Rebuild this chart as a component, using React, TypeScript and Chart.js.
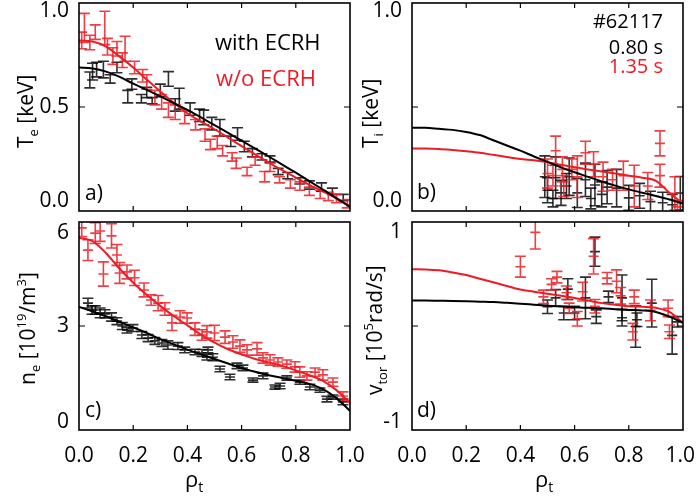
import React, { useEffect, useRef } from "react";
import { Chart, registerables } from "chart.js";
Chart.register(...registerables);

const FONT = '"Open Sans", "DejaVu Sans", sans-serif';
const BLACK = "#000000";
const RED = "rgb(237,28,36)";
const BLACK_BAR = "rgba(0,0,0,0.82)";
const RED_BAR = "rgba(237,28,36,0.85)";

type Pt = [number, number, number];

// ---------- shared radial grid for the fitted profiles ----------
const RHO_GRID = [0, 0.05, 0.1, 0.15, 0.2, 0.25, 0.3, 0.35, 0.4, 0.45, 0.5, 0.55, 0.6, 0.65, 0.7, 0.75, 0.8, 0.85, 0.9, 0.95, 1.0];
const X_TICKS = [0, 0.2, 0.4, 0.6, 0.8, 1.0];
const X_TICK_LABELS = ["0.0", "0.2", "0.4", "0.6", "0.8", "1.0"];

// ---------- a) Te ----------
const TE_FIT_ECRH = [0.69, 0.685, 0.67, 0.645, 0.612, 0.582, 0.551, 0.518, 0.486, 0.45, 0.413, 0.376, 0.338, 0.3, 0.262, 0.223, 0.184, 0.144, 0.103, 0.062, 0.02];
const TE_FIT_NOECRH = [0.82, 0.815, 0.79, 0.742, 0.69, 0.632, 0.575, 0.52, 0.47, 0.43, 0.393, 0.353, 0.312, 0.272, 0.233, 0.196, 0.16, 0.126, 0.094, 0.06, 0.022];
const TE_PTS_ECRH: Pt[] = [
  [0.04, 0.63, 0.038], [0.05, 0.67, 0.04], [0.065, 0.68, 0.035], [0.09, 0.68, 0.04], [0.115, 0.635, 0.02],
  [0.14, 0.69, 0.025], [0.18, 0.55, 0.03], [0.195, 0.61, 0.025], [0.23, 0.54, 0.02], [0.25, 0.57, 0.025],
  [0.27, 0.53, 0.015], [0.3, 0.58, 0.03], [0.33, 0.635, 0.035], [0.355, 0.51, 0.03], [0.37, 0.54, 0.05],
  [0.41, 0.49, 0.03], [0.445, 0.46, 0.03], [0.46, 0.45, 0.035], [0.49, 0.42, 0.03], [0.52, 0.4, 0.04],
  [0.56, 0.335, 0.025], [0.585, 0.37, 0.03], [0.61, 0.31, 0.025], [0.64, 0.28, 0.02], [0.675, 0.26, 0.015],
  [0.705, 0.25, 0.015], [0.735, 0.19, 0.015], [0.77, 0.17, 0.015], [0.815, 0.145, 0.015], [0.85, 0.125, 0.02],
  [0.895, 0.115, 0.02], [0.935, 0.095, 0.015], [0.975, 0.065, 0.015],
];
const TE_PTS_NOECRH: Pt[] = [
  [0.02, 0.88, 0.07], [0.01, 0.82, 0.04], [0.04, 0.81, 0.035], [0.06, 0.86, 0.035], [0.095, 0.88, 0.08],
  [0.105, 0.79, 0.04], [0.125, 0.745, 0.04], [0.14, 0.78, 0.035], [0.16, 0.725, 0.035], [0.17, 0.78, 0.06],
  [0.205, 0.69, 0.03], [0.235, 0.65, 0.03], [0.25, 0.62, 0.035], [0.28, 0.545, 0.035], [0.305, 0.525, 0.035],
  [0.33, 0.485, 0.035], [0.355, 0.475, 0.035], [0.39, 0.45, 0.03], [0.43, 0.415, 0.025], [0.465, 0.365, 0.03],
  [0.485, 0.32, 0.025], [0.51, 0.33, 0.03], [0.53, 0.29, 0.025], [0.565, 0.26, 0.02], [0.58, 0.23, 0.025],
  [0.62, 0.19, 0.02], [0.65, 0.24, 0.02], [0.685, 0.165, 0.025], [0.705, 0.21, 0.02], [0.74, 0.15, 0.015],
  [0.78, 0.13, 0.02], [0.815, 0.12, 0.02], [0.85, 0.095, 0.02], [0.89, 0.08, 0.02], [0.92, 0.07, 0.02],
  [0.95, 0.06, 0.02], [0.99, 0.035, 0.02],
];

// ---------- b) Ti ----------
const TI_FIT_ECRH = [0.4, 0.4, 0.395, 0.39, 0.38, 0.365, 0.34, 0.315, 0.29, 0.262, 0.236, 0.21, 0.186, 0.164, 0.142, 0.122, 0.104, 0.088, 0.072, 0.055, 0.035];
const TI_FIT_NOECRH = [0.3, 0.3, 0.298, 0.293, 0.287, 0.28, 0.27, 0.26, 0.25, 0.244, 0.235, 0.222, 0.21, 0.2, 0.19, 0.18, 0.17, 0.16, 0.145, 0.088, 0.035];
const TI_PTS_ECRH: Pt[] = [
  [0.49, 0.165, 0.1], [0.5, 0.1, 0.06], [0.52, 0.06, 0.04], [0.53, 0.16, 0.1], [0.55, 0.087, 0.06],
  [0.57, 0.12, 0.06], [0.58, 0.165, 0.09], [0.61, 0.087, 0.07], [0.64, 0.15, 0.08], [0.66, 0.06, 0.05],
  [0.675, 0.125, 0.1], [0.7, 0.08, 0.06], [0.72, 0.115, 0.08], [0.755, 0.11, 0.09], [0.8, 0.063, 0.06],
  [0.84, 0.073, 0.06], [0.88, 0.045, 0.05], [0.925, 0.04, 0.05], [0.96, 0.03, 0.05], [0.99, 0.086, 0.08],
];
const TI_PTS_NOECRH: Pt[] = [
  [0.5, 0.18, 0.07], [0.52, 0.17, 0.05], [0.53, 0.29, 0.07], [0.555, 0.2, 0.06], [0.56, 0.12, 0.05],
  [0.59, 0.2, 0.05], [0.61, 0.165, 0.1], [0.64, 0.28, 0.055], [0.67, 0.225, 0.06], [0.705, 0.165, 0.07],
  [0.74, 0.15, 0.05], [0.78, 0.17, 0.07], [0.82, 0.12, 0.1], [0.87, 0.12, 0.065], [0.915, 0.325, 0.06],
  [0.915, 0.17, 0.055], [0.97, 0.085, 0.08], [0.98, 0.02, 0.03],
];

// ---------- c) ne ----------
const NE_FIT_ECRH = [3.55, 3.42, 3.28, 3.12, 2.96, 2.8, 2.62, 2.47, 2.32, 2.18, 2.05, 1.92, 1.79, 1.68, 1.58, 1.5, 1.42, 1.33, 1.18, 0.92, 0.55];
const NE_FIT_NOECRH = [5.55, 5.45, 5.1, 4.65, 4.25, 3.9, 3.58, 3.28, 3.02, 2.75, 2.52, 2.33, 2.18, 2.05, 1.95, 1.85, 1.72, 1.58, 1.42, 1.15, 0.78];
const NE_PTS_ECRH: Pt[] = [
  [0.033, 3.66, 0.14], [0.048, 3.46, 0.12], [0.06, 3.46, 0.12], [0.078, 3.38, 0.14], [0.096, 3.35, 0.12],
  [0.12, 3.26, 0.12], [0.14, 3.14, 0.1], [0.16, 3.0, 0.1], [0.177, 2.88, 0.08], [0.199, 2.94, 0.1],
  [0.232, 2.74, 0.1], [0.255, 2.65, 0.1], [0.28, 2.57, 0.1], [0.306, 2.51, 0.1], [0.328, 2.45, 0.12],
  [0.365, 2.42, 0.1], [0.39, 2.31, 0.08], [0.428, 2.25, 0.08], [0.454, 2.22, 0.1], [0.476, 2.31, 0.08],
  [0.472, 2.1, 0.08], [0.494, 2.1, 0.1], [0.52, 1.76, 0.08], [0.557, 1.53, 0.08], [0.583, 1.85, 0.08],
  [0.605, 1.79, 0.08], [0.642, 1.44, 0.06], [0.679, 1.56, 0.08], [0.723, 1.24, 0.06], [0.742, 1.27, 0.08],
  [0.767, 1.5, 0.06], [0.815, 1.38, 0.06], [0.852, 1.24, 0.08], [0.889, 1.15, 0.06], [0.915, 0.89, 0.08],
  [0.937, 0.95, 0.06], [0.974, 0.81, 0.08],
];
const NE_PTS_NOECRH: Pt[] = [
  [0.01, 5.83, 0.25], [0.033, 5.19, 0.3], [0.06, 5.68, 0.3], [0.078, 5.74, 0.3], [0.09, 4.5, 0.35],
  [0.12, 5.6, 0.35], [0.14, 5.05, 0.3], [0.15, 4.53, 0.3], [0.177, 4.56, 0.2], [0.205, 4.39, 0.22],
  [0.24, 4.04, 0.2], [0.266, 3.75, 0.15], [0.292, 3.66, 0.22], [0.317, 3.49, 0.18], [0.343, 3.09, 0.22],
  [0.373, 3.26, 0.18], [0.399, 3.23, 0.15], [0.428, 2.91, 0.18], [0.454, 2.74, 0.15], [0.472, 2.83, 0.18],
  [0.5, 2.8, 0.22], [0.539, 2.68, 0.18], [0.568, 2.54, 0.18], [0.594, 2.42, 0.18], [0.62, 2.31, 0.15],
  [0.657, 2.34, 0.18], [0.679, 2.08, 0.15], [0.705, 2.02, 0.15], [0.734, 1.96, 0.12], [0.767, 1.9, 0.12],
  [0.797, 1.82, 0.15], [0.815, 1.67, 0.15], [0.841, 1.56, 0.12], [0.871, 1.67, 0.12], [0.9, 1.59, 0.15],
  [0.937, 1.38, 0.12], [0.974, 0.98, 0.12],
];

// ---------- d) vtor ----------
const VT_FIT_ECRH = [0.245, 0.245, 0.243, 0.241, 0.238, 0.234, 0.23, 0.223, 0.215, 0.205, 0.195, 0.187, 0.18, 0.175, 0.17, 0.162, 0.155, 0.15, 0.135, 0.09, 0.03];
const VT_FIT_NOECRH = [0.545, 0.543, 0.535, 0.515, 0.49, 0.455, 0.42, 0.385, 0.35, 0.33, 0.31, 0.29, 0.27, 0.245, 0.22, 0.205, 0.19, 0.185, 0.175, 0.135, 0.03];
const VT_PTS_ECRH: Pt[] = [
  [0.5, 0.185, 0.065], [0.53, 0.27, 0.08], [0.56, 0.125, 0.065], [0.575, 0.355, 0.1], [0.6, 0.125, 0.065],
  [0.64, 0.27, 0.2], [0.675, 0.715, 0.14], [0.68, 0.09, 0.065], [0.725, 0.28, 0.055], [0.775, 0.27, 0.22],
  [0.775, 0.08, 0.08], [0.825, -0.005, 0.2], [0.83, 0.06, 0.065], [0.885, 0.22, 0.23], [0.96, -0.09, 0.18],
  [0.98, 0.04, 0.05],
];
const VT_PTS_NOECRH: Pt[] = [
  [0.4, 0.57, 0.1], [0.455, 0.9, 0.16], [0.485, 0.28, 0.065], [0.515, 0.4, 0.055], [0.535, 0.47, 0.055],
  [0.57, 0.32, 0.065], [0.58, 0.17, 0.05], [0.61, 0.07, 0.07], [0.63, 0.33, 0.09], [0.67, 0.67, 0.17],
  [0.675, 0.19, 0.065], [0.72, 0.46, 0.055], [0.755, 0.43, 0.11], [0.77, 0.29, 0.08], [0.815, -0.055, 0.08],
  [0.82, 0.28, 0.065], [0.88, 0.15, 0.1], [0.945, 0.17, 0.08], [0.95, -0.055, 0.065],
];

type Part = { t: string; sub?: boolean; sup?: boolean };
type TextItem = { text: string; x: number; y: number; color: string; align: CanvasTextAlign; size: number };
type YLabel = { v: number; label: string; dy: number };

interface Panel {
  pad: { left: number; top: number; right: number; bottom: number };
  yMin: number;
  yMax: number;
  yMarks: number[];
  yLabels: YLabel[];
  title: Part[];
  titleX: number;
  titleY: number;
  tag: string;
  tagX: number;
  tagY: number;
  texts: TextItem[];
  xLabels: boolean;
  rhoX: number;
  centerTick: boolean;
  fitB: number[];
  fitR: number[];
  ptsB: Pt[];
  ptsR: Pt[];
}

const PANELS: Panel[] = [
  {
    pad: { left: 79, top: 3, right: 347, bottom: 288 },
    yMin: 0, yMax: 1, yMarks: [0.5],
    yLabels: [{ v: 1, label: "1.0", dy: 14 }, { v: 0.5, label: "0.5", dy: 6 }, { v: 0, label: "0.0", dy: -4 }],
    title: [{ t: "T" }, { t: "e", sub: true }, { t: " [keV]" }], titleX: 33, titleY: 148,
    tag: "a)", tagX: 85, tagY: 200,
    texts: [
      { text: "with ECRH", x: 215, y: 50, color: BLACK, align: "left", size: 22 },
      { text: "w/o ECRH", x: 216, y: 86, color: RED, align: "left", size: 22 },
    ],
    xLabels: false, rhoX: 0, centerTick: false,
    fitB: TE_FIT_ECRH, fitR: TE_FIT_NOECRH, ptsB: TE_PTS_ECRH, ptsR: TE_PTS_NOECRH,
  },
  {
    pad: { left: 412, top: 3, right: 14, bottom: 288 },
    yMin: 0, yMax: 1, yMarks: [0.5],
    yLabels: [{ v: 1, label: "1.0", dy: 14 }, { v: 0, label: "0.0", dy: -4 }],
    title: [{ t: "T" }, { t: "i", sub: true }, { t: " [keV]" }], titleX: 378, titleY: 148,
    tag: "b)", tagX: 417, tagY: 199,
    texts: [
      { text: "#62117", x: 663, y: 28, color: BLACK, align: "right", size: 20 },
      { text: "0.80 s", x: 663, y: 54, color: BLACK, align: "right", size: 20 },
      { text: "1.35 s", x: 663, y: 73, color: RED, align: "right", size: 20 },
    ],
    xLabels: false, rhoX: 0, centerTick: true,
    fitB: TI_FIT_ECRH, fitR: TI_FIT_NOECRH, ptsB: TI_PTS_ECRH, ptsR: TI_PTS_NOECRH,
  },
  {
    pad: { left: 79, top: 222, right: 347, bottom: 69 },
    yMin: 0, yMax: 6, yMarks: [3],
    yLabels: [{ v: 6, label: "6", dy: 17 }, { v: 3, label: "3", dy: 6 }, { v: 0, label: "0", dy: -2 }],
    title: [{ t: "n" }, { t: "e", sub: true }, { t: " [10" }, { t: "19", sup: true }, { t: "/m" }, { t: "3", sup: true }, { t: "]" }],
    titleX: 35, titleY: 385,
    tag: "c)", tagX: 85, tagY: 417,
    texts: [],
    xLabels: true, rhoX: 185, centerTick: true,
    fitB: NE_FIT_ECRH, fitR: NE_FIT_NOECRH, ptsB: NE_PTS_ECRH, ptsR: NE_PTS_NOECRH,
  },
  {
    pad: { left: 412, top: 222, right: 14, bottom: 69 },
    yMin: -1, yMax: 1, yMarks: [0],
    yLabels: [{ v: 1, label: "1", dy: 16 }, { v: -1, label: "-1", dy: -2 }],
    title: [{ t: "v" }, { t: "tor", sub: true }, { t: " [10" }, { t: "5", sup: true }, { t: "rad/s]" }],
    titleX: 382, titleY: 395,
    tag: "d)", tagX: 417, tagY: 417,
    texts: [],
    xLabels: true, rhoX: 535, centerTick: true,
    fitB: VT_FIT_ECRH, fitR: VT_FIT_NOECRH, ptsB: VT_PTS_ECRH, ptsR: VT_PTS_NOECRH,
  },
];

const FS = 21;

function drawRich(ctx: CanvasRenderingContext2D, parts: Part[], x: number, y: number, size: number, rotate: boolean) {
  ctx.save();
  ctx.translate(x, y);
  if (rotate) ctx.rotate(-Math.PI / 2);
  ctx.textAlign = "left";
  ctx.textBaseline = "alphabetic";
  ctx.fillStyle = BLACK;
  let cx = 0;
  for (const p of parts) {
    const small = p.sub || p.sup;
    ctx.font = `${small ? Math.round(size * 0.62) : size}px ${FONT}`;
    const dy = p.sub ? size * 0.22 : p.sup ? -size * 0.42 : 0;
    ctx.fillText(p.t, cx, dy);
    cx += ctx.measureText(p.t).width;
  }
  ctx.restore();
}

function makePlugin(panel: Panel) {
  return {
    id: "panelDeco",
    beforeDatasetsDraw(chart: any) {
      const ctx: CanvasRenderingContext2D = chart.ctx;
      const ca = chart.chartArea;
      const ys = chart.scales.y;
      ctx.save();
      ctx.beginPath();
      ctx.rect(ca.left, ca.top, ca.right - ca.left, ca.bottom - ca.top);
      ctx.clip();
      chart.data.datasets.forEach((ds: any, i: number) => {
        if (!ds.errs) return;
        const meta = chart.getDatasetMeta(i);
        ctx.strokeStyle = ds.barColor;
        ctx.lineWidth = 1.6;
        meta.data.forEach((el: any, j: number) => {
          const x = el.x;
          const v = ds.data[j].y;
          const y1 = ys.getPixelForValue(v + ds.errs[j]);
          const y2 = ys.getPixelForValue(v - ds.errs[j]);
          const yc = el.y;
          ctx.beginPath();
          ctx.moveTo(x, y1); ctx.lineTo(x, y2);
          ctx.moveTo(x - 5.5, y1); ctx.lineTo(x + 5.5, y1);
          ctx.moveTo(x - 5.5, y2); ctx.lineTo(x + 5.5, y2);
          if (panel.centerTick) { ctx.moveTo(x - 5, yc); ctx.lineTo(x + 5, yc); }
          ctx.stroke();
        });
      });
      ctx.restore();
    },
    afterDraw(chart: any) {
      const ctx: CanvasRenderingContext2D = chart.ctx;
      const ca = chart.chartArea;
      const xs = chart.scales.x;
      const ys = chart.scales.y;
      ctx.save();
      // frame
      ctx.strokeStyle = BLACK;
      ctx.lineWidth = 1.6;
      ctx.strokeRect(ca.left, ca.top, ca.right - ca.left, ca.bottom - ca.top);
      // ticks
      ctx.lineWidth = 1.2;
      ctx.beginPath();
      for (const t of X_TICKS) {
        if (t <= 0 || t >= 1) continue;
        const px = xs.getPixelForValue(t);
        ctx.moveTo(px, ca.bottom); ctx.lineTo(px, ca.bottom - 5);
        ctx.moveTo(px, ca.top); ctx.lineTo(px, ca.top + 5);
      }
      for (const m of panel.yMarks) {
        const py = ys.getPixelForValue(m);
        ctx.moveTo(ca.left, py); ctx.lineTo(ca.left + 6, py);
        ctx.moveTo(ca.right, py); ctx.lineTo(ca.right - 6, py);
      }
      ctx.stroke();
      // y labels
      ctx.fillStyle = BLACK;
      ctx.font = `${FS}px ${FONT}`;
      ctx.textAlign = "right";
      ctx.textBaseline = "alphabetic";
      for (const l of panel.yLabels) {
        ctx.fillText(l.label, ca.left - 10, ys.getPixelForValue(l.v) + l.dy);
      }
      // x labels
      if (panel.xLabels) {
        ctx.textAlign = "center";
        X_TICKS.forEach((t, i) => {
          let px = xs.getPixelForValue(t);
          const w = ctx.measureText(X_TICK_LABELS[i]).width;
          if (px + w / 2 > 695) px = 695 - w / 2;
          ctx.fillText(X_TICK_LABELS[i], px, 462);
        });
        drawRich(ctx, [{ t: "ρ" }, { t: "t", sub: true }], panel.rhoX, 487, 22, false);
      }
      // panel tag
      ctx.textAlign = "left";
      ctx.fillText(panel.tag, panel.tagX, panel.tagY);
      // extra texts
      for (const tx of panel.texts) {
        ctx.fillStyle = tx.color;
        ctx.textAlign = tx.align;
        ctx.font = `${tx.size}px ${FONT}`;
        ctx.fillText(tx.text, tx.x, tx.y);
      }
      ctx.restore();
      drawRich(ctx, panel.title, panel.titleX, panel.titleY, FS, true);
    },
  };
}

function toXY(xs: number[], ys: number[]) {
  return xs.map((x, i) => ({ x, y: ys[i] }));
}

function PanelChart({ panel }: { panel: Panel }) {
  const ref = useRef<HTMLCanvasElement>(null);
  useEffect(() => {
    if (!ref.current) return;
    const chart = new Chart(ref.current, {
      type: "scatter",
      data: {
        datasets: [
          {
            data: panel.ptsB.map((p) => ({ x: p[0], y: p[1] })),
            errs: panel.ptsB.map((p) => p[2]),
            barColor: BLACK_BAR,
            pointRadius: 0,
            showLine: false,
          } as any,
          {
            data: panel.ptsR.map((p) => ({ x: p[0], y: p[1] })),
            errs: panel.ptsR.map((p) => p[2]),
            barColor: RED_BAR,
            pointRadius: 0,
            showLine: false,
          } as any,
          {
            data: toXY(RHO_GRID, panel.fitB),
            showLine: true,
            borderColor: BLACK,
            borderWidth: 2,
            pointRadius: 0,
            cubicInterpolationMode: "monotone",
          },
          {
            data: toXY(RHO_GRID, panel.fitR),
            showLine: true,
            borderColor: RED,
            borderWidth: 2,
            pointRadius: 0,
            cubicInterpolationMode: "monotone",
          },
        ],
      },
      options: {
        animation: false,
        responsive: false,
        devicePixelRatio: 1,
        layout: { padding: panel.pad },
        plugins: { legend: { display: false }, tooltip: { enabled: false } },
        events: [],
        scales: {
          x: { type: "linear", min: 0, max: 1, display: false },
          y: { type: "linear", min: panel.yMin, max: panel.yMax, display: false },
        },
      },
      plugins: [makePlugin(panel)],
    });
    return () => chart.destroy();
  }, [panel]);
  return (
    <canvas
      ref={ref}
      width={697}
      height={499}
      style={{ position: "absolute", left: 0, top: 0, width: 697, height: 499 }}
    />
  );
}

export default function App() {
  return (
    <div style={{ position: "absolute", left: 0, top: 0, width: 697, height: 499, background: "#fff" }}>
      {PANELS.map((p, i) => (
        <PanelChart key={i} panel={p} />
      ))}
    </div>
  );
}
